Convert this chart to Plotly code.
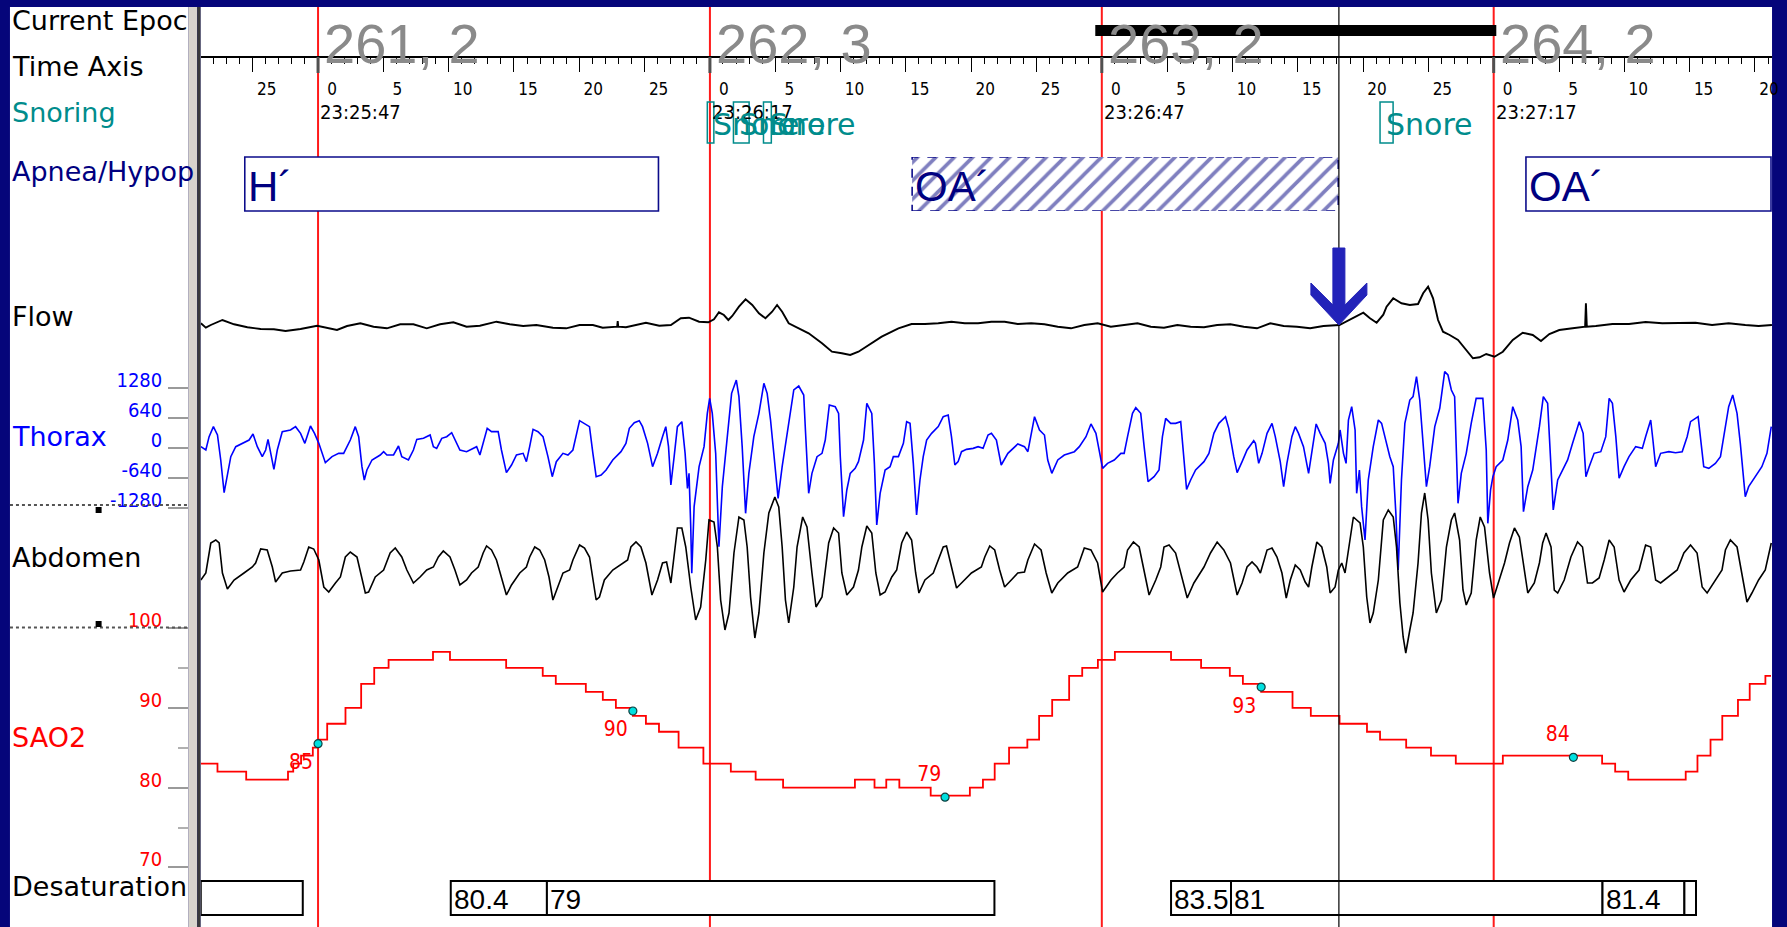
import plotly.graph_objects as go

W, H = 1787, 927

# ------------------------------------------------------------------ data
EPOCH_START = [0, 30, 60, 90]                     # s, relative to 23:25:47
EPOCH_NUM = ["261, 2", "262, 3", "263, 2", "264, 2"]
EPOCH_CLOCK = ["23:25:47", "23:26:17", "23:26:47", "23:27:17"]
TICK_T = [-5, 0, 5, 10, 15, 20, 25, 30, 35, 40, 45, 50, 55, 60, 65, 70, 75, 80, 85,
          90, 95, 100, 105, 110]
TICK_TXT = ["25", "0", "5", "10", "15", "20", "25", "0", "5", "10", "15", "20", "25",
            "0", "5", "10", "15", "20", "25", "0", "5", "10", "15", "20"]
CURSOR_T = 78.15
CURRENT_EPOCH = (59.5, 90.2)

SNORE = [(29.8, 30.3), (31.8, 33.0), (34.1, 34.7), (81.3, 82.3)]
APNEA_H = ("H\u00b4", -5.61, 26.06)
APNEA_OA_HATCH = ("OA\u00b4", 45.48, 78.1)
APNEA_OA_2 = ("OA\u00b4", 92.47, 111.23)

DESAT_CELLS = [(-8.98, -1.17, ""), (10.16, 17.52, "80.4"), (17.52, 51.78, "79"),
               (65.30, 69.89, "83.5"), (69.89, 98.33, "81"), (98.33, 104.60, "81.4"),
               (104.60, 105.49, "")]
DESAT_DOT_T = [0.0, 24.1, 48.0, 72.2, 96.1]
DESAT_DOT_V = [85.5, 89.6, 78.8, 92.6, 83.8]
DESAT_LBL_T = [-1.3, 22.8, 46.8, 70.9, 94.9]
DESAT_LBL_V = [83.0, 87.1, 81.45, 90.06, 86.47]
DESAT_LBL = ["85", "90", "79", "93", "84"]

THORAX_TICKS = [1280, 640, 0, -640, -1280]
SAO2_TICKS = [100, 90, 80, 70]
SAO2_MINOR = [95, 85, 75]

FLOW = [(-8.97, 2.7), (-8.59, -1.7), (-8.21, 1.0), (-7.32, 6.0), (-6.43, 1.7), (-5.41, -1.3),
        (-4.39, -3.0), (-3.38, -3.3), (-2.49, -5.0), (-1.34, -3.0), (-0.07, 0.3), (0.69, -1.7),
        (1.45, -4.0), (2.22, 0.0), (3.24, 2.7), (4.25, -0.7), (5.27, -2.3), (6.29, 1.7),
        (7.30, 1.7), (8.32, -2.3), (9.34, 1.7), (10.36, 3.7), (11.37, -0.7), (12.39, 0.3),
        (13.66, 4.3), (14.68, 1.7), (15.70, 0.0), (16.71, 1.0), (17.98, -1.7), (19.00, -2.3),
        (20.02, 1.0), (21.04, 1.0), (21.79, -1.7), (22.90, -0.7), (22.94, 5.0), (22.98, -0.7),
        (23.57, -1.3), (25.10, 3.3), (26.12, 0.3), (27.01, 1.0), (27.77, 7.7), (28.40, 8.3),
        (29.17, 4.3), (29.88, 3.7), (30.31, 6.7), (30.69, 13.7), (31.07, 11.0), (31.41, 6.0),
        (31.71, 10.0), (32.22, 19.3), (32.73, 26.7), (33.24, 21.0), (33.75, 12.7), (34.25, 7.7),
        (34.76, 14.3), (35.14, 21.0), (35.53, 14.3), (36.03, 2.7), (36.80, -2.3), (37.56, -7.3),
        (38.58, -17.3), (39.34, -25.7), (40.10, -27.3), (40.74, -29.0), (41.37, -25.7),
        (42.14, -19.0), (43.15, -10.7), (44.43, -2.3), (45.44, 2.0), (46.46, 2.0), (47.48, 2.7),
        (48.49, 4.3), (49.51, 2.7), (50.53, 2.7), (51.55, 4.3), (52.56, 4.3), (53.57, 2.0),
        (54.59, 2.7), (55.61, 1.7), (56.63, -0.7), (57.64, -2.3), (58.66, 1.0), (59.68, 2.7),
        (60.69, -0.7), (61.71, 1.0), (62.73, 2.7), (63.75, -0.7), (64.76, -1.7), (65.78, 1.0),
        (66.80, -0.7), (67.82, -1.3), (68.83, 1.0), (69.85, 1.7), (70.87, -0.7), (71.88, -2.3),
        (72.90, 2.7), (73.92, 0.0), (74.94, -0.7), (75.95, -2.3), (76.97, 0.0), (78.19, 1.0),
        (79.00, 6.7), (79.51, 10.0), (80.02, 13.3), (80.53, 7.7), (81.04, 3.3), (81.55, 11.3),
        (81.80, 19.3), (82.31, 27.7), (82.94, 22.7), (83.58, 21.0), (84.21, 22.0), (84.60, 32.7),
        (84.98, 39.3), (85.36, 27.7), (85.74, 6.0), (86.12, -5.7), (86.63, -9.0), (87.27, -14.0),
        (87.90, -24.0), (88.41, -32.3), (88.92, -31.3), (89.43, -28.0), (90.06, -30.7),
        (90.70, -25.7), (91.46, -14.0), (92.22, -6.7), (92.99, -9.0), (93.62, -15.0),
        (94.26, -8.0), (95.02, -4.0), (96.04, -2.3), (96.80, -0.7), (97.00, -0.7), (97.06, 22.7),
        (97.13, -0.7), (97.82, 0.0), (99.09, 2.0), (100.36, 2.0), (101.63, 4.0), (102.91, 2.7),
        (104.18, 2.7), (105.45, 3.3), (106.72, 1.0), (107.99, 2.7), (109.26, 1.0), (110.28, 0.0),
        (111.30, 1.0)]

THORAX = [(-8.97, 22), (-8.59, -49), (-8.34, 235), (-8.01, 449), (-7.70, 271), (-7.45, -262),
          (-7.19, -959), (-6.94, -547), (-6.68, -191), (-6.30, 22), (-5.79, 93), (-5.28, 164),
          (-4.98, 292), (-4.65, 22), (-4.27, -191), (-4.01, -49), (-3.83, 178), (-3.63, -120),
          (-3.38, -461), (-3.12, -49), (-2.74, 342), (-2.11, 378), (-1.72, 449), (-1.34, 306),
          (-1.01, 93), (-0.76, 306), (-0.58, 463), (-0.27, 306), (0.06, 93), (0.56, -319),
          (1.07, -191), (1.58, -120), (1.96, -120), (2.47, 164), (2.85, 449), (3.11, 235),
          (3.36, -405), (3.54, -689), (3.74, -476), (4.13, -262), (4.76, -156), (5.02, -85),
          (5.27, -156), (5.78, -156), (6.16, 36), (6.41, -191), (6.92, -262), (7.30, -49),
          (7.56, 178), (8.07, 200), (8.58, 271), (8.83, 22), (9.08, -14), (9.47, 200), (9.85, 235),
          (10.23, 321), (10.48, 164), (10.86, -49), (11.37, -85), (11.88, -14), (12.14, 22),
          (12.39, -156), (12.64, 93), (12.95, 413), (13.28, 342), (13.79, 342), (14.04, -49),
          (14.42, -533), (14.81, -369), (15.19, -156), (15.70, -120), (15.95, -298), (16.20, 22),
          (16.46, 392), (16.84, 342), (17.22, 235), (17.60, -191), (17.93, -618), (18.24, -298),
          (18.75, -120), (19.13, -156), (19.51, -49), (20.02, 577), (20.40, 520), (20.78, 449),
          (21.04, -120), (21.29, -618), (21.67, -582),
          (22.05, -476), (22.56, -262), (23.19, -85), (23.57, 93), (23.83, 413), (24.21, 534),
          (24.59, 577), (24.84, 449), (25.23, 93), (25.61, -405), (25.99, -120), (26.37, 235),
          (26.62, 449), (26.83, 22), (27.01, -796), (27.26, -191), (27.51, 449), (27.85, 555),
          (28.10, -120), (28.28, -867), (28.40, -547), (28.53, -1684), (28.61, -2680),
          (28.79, -1258), (29.17, -405), (29.55, 22), (29.80, 733), (29.98, 1053), (30.18, 733),
          (30.44, -120), (30.69, -2111), (30.95, -831), (31.33, 235), (31.66, 1160), (32.02, 1444),
          (32.22, 1089), (32.47, 22), (32.73, -1400), (32.98, -547), (33.36, 235), (33.75, 733),
          (34.13, 1373), (34.38, 1160), (34.64, 591), (34.89, -120), (35.22, -1080), (35.53, -405),
          (35.91, 306), (36.42, 1231), (36.80, 1316), (37.18, 1124), (37.31, 378), (37.56, -973),
          (37.81, -547), (38.20, -191), (38.58, -120), (38.83, 164), (39.14, 911), (39.59, 875),
          (39.85, 733), (39.98, -191), (40.23, -1471), (40.48, -902), (40.74, -547), (41.12, -440),
          (41.37, -298), (41.76, 164), (42.01, 946), (42.39, 733), (42.59, -334), (42.77, -1649),
          (43.03, -973), (43.41, -476), (43.79, -405), (44.04, -191), (44.43, -191), (44.81, 93),
          (45.06, 555), (45.32, 520), (45.57, -334), (45.82, -1436), (46.08, -689), (46.33, -191),
          (46.59, 164), (46.97, 306), (47.48, 449), (47.86, 662), (48.24, 697), (48.49, 235),
          (48.75, -369), (49.00, -298), (49.26, -85), (49.64, -35), (50.15, -14), (50.53, 22),
          (50.91, -14), (51.29, 271), (51.55, 306), (51.93, 164),
          (52.30, -369), (52.81, -120), (53.57, 79), (54.08, 22), (54.34, -85), (54.59, 306),
          (54.85, 662), (55.23, 378), (55.61, 271), (55.86, -262), (56.17, -547), (56.63, -262),
          (57.13, -156), (57.90, -85), (58.28, 22), (58.79, 235), (59.17, 506), (59.55, 306),
          (59.81, -49), (60.06, -440), (60.44, -334), (60.95, -262), (61.46, -120), (61.71, -120),
          (61.97, 235), (62.35, 733), (62.60, 854), (62.98, 733), (63.24, 22), (63.54, -725),
          (64.00, -618), (64.38, -476), (64.64, 235), (64.89, 626), (65.27, 520), (65.65, 520),
          (66.04, 555), (66.16, 164), (66.49, -888), (66.80, -689), (67.18, -476), (67.82, -298),
          (68.20, -120), (68.58, 306), (68.96, 520), (69.47, 662), (69.72, 413), (70.10, -191),
          (70.36, -533), (70.74, -298), (71.12, -49), (71.63, 150), (71.76, 93), (72.01, -334),
          (72.27, -120), (72.65, 306), (73.03, 520), (73.28, 235), (73.66, -298), (73.92, -831),
          (74.17, -334), (74.55, 235), (74.81, 449), (75.06, 306), (75.44, 22), (75.83, -547),
          (76.08, -49), (76.41, 506), (76.72, 306), (77.10, 93), (77.35, -334), (77.48, -760),
          (77.73, -262), (78.11, 93), (78.24, 378), (78.50, -120), (78.70, -334), (78.88, 591),
          (79.13, 875), (79.39, 378), (79.51, -973), (79.72, -476), (79.89, -1258), (80.15, -1969),
          (80.40, -689), (80.78, 22), (81.17, 591), (81.42, 520),
          (81.67, 235), (82.05, -191), (82.31, -405), (82.51, -1400), (82.69, -2609), (82.94, -689),
          (83.20, 520), (83.58, 1017), (83.83, 1089), (84.09, 1515), (84.34, 1017), (84.60, 22),
          (84.85, -831), (85.10, -405), (85.49, 449), (85.87, 840), (86.25, 1622), (86.50, 1551),
          (86.76, 1231), (87.01, 1089), (87.27, -1187), (87.52, -547), (87.90, -120), (88.28, 520),
          (88.66, 1053), (89.17, 1053), (89.43, -49), (89.55, -1613), (89.76, -902), (89.94, -618),
          (90.19, -405), (90.70, -262), (91.08, 164), (91.46, 875), (91.84, 591), (92.10, 22),
          (92.28, -1364), (92.61, -831), (92.99, -476), (93.50, 449), (93.80, 1089), (94.13, 946),
          (94.39, -334), (94.56, -1329), (94.90, -689), (95.28, -476), (95.66, -262), (96.04, 93),
          (96.55, 555), (96.85, 306), (97.06, -618), (97.31, -405), (97.69, -120), (98.20, -85),
          (98.58, 235), (98.84, 1053), (99.09, 946), (99.35, 235), (99.60, -653), (99.98, -405),
          (100.36, -191), (100.87, 22), (101.38, -14), (101.63, 235), (102.02, 591), (102.19, 164),
          (102.40, -405), (102.78, -120), (103.41, -85), (103.92, -106), (104.43, -85),
          (104.81, 235), (105.07, 555), (105.65, 662), (105.83, 235), (106.08, -405),
          (106.47, -440), (106.97, -334), (107.36, -191), (107.61, 235), (107.99, 875),
          (108.30, 1124), (108.63, 733), (108.88, 93), (109.26, -1045), (109.52, -831),
          (110.03, -618), (110.53, -405), (110.92, -120), (111.25, 449)]

ABDOMEN = [(-8.97, -10), (-8.59, -3), (-8.21, 27), (-7.83, 30), (-7.57, 27), (-7.32, -3),
           (-6.94, -19), (-6.43, -10), (-5.67, -3), (-5.03, 3), (-4.78, 7), (-4.39, 21),
           (-3.89, 20), (-3.50, 3), (-3.25, -12), (-2.74, -3), (-2.11, -1), (-1.34, 0),
           (-1.09, 8), (-0.71, 23), (-0.33, 21), (0.06, 10), (0.44, -17), (0.82, -22), (1.33, -13),
           (1.71, -7), (2.09, 13), (2.47, 18), (2.98, 13), (3.36, -7), (3.62, -23), (3.87, -22),
           (4.38, -7), (5.02, 0), (5.52, 17), (5.91, 22), (6.41, 13), (6.80, 0), (7.30, -13),
           (7.81, -7), (8.32, 0), (8.83, 3), (9.21, 13), (9.59, 19), (10.10, 13), (10.48, 0),
           (10.86, -15), (11.37, -10), (11.75, -3), (12.26, 3), (12.64, 17), (12.90, 24),
           (13.28, 20), (13.66, 10), (14.04, -7), (14.42, -25), (14.81, -15), (15.44, -3),
           (15.95, 3), (16.20, 13), (16.59, 23), (16.97, 20), (17.35, 10), (17.68, -7),
           (17.98, -30), (18.37, -17), (18.75, -3), (19.26, 0), (19.51, 10), (20.02, 25),
           (20.40, 22), (20.78, 13), (21.04, -10), (21.29, -30),
           (21.54, -27), (21.92, -10), (22.56, 0), (23.32, 7), (23.70, 10), (23.95, 23), (24.34, 28),
           (24.72, 23), (25.10, 7), (25.56, -25), (25.99, -10), (26.37, 7), (26.68, 8), (27.01, -13),
           (27.26, 17), (27.51, 42), (27.85, 42), (28.15, 23), (28.53, -17), (28.91, -50),
           (29.29, -37), (29.68, 10), (29.93, 50), (30.31, 48), (30.57, 23), (30.82, -30),
           (31.15, -60), (31.46, -43), (31.84, 17), (32.22, 53), (32.60, 50), (32.85, 23),
           (33.11, -27), (33.44, -68), (33.75, -43), (34.13, 17), (34.51, 57), (34.97, 73),
           (35.27, 63), (35.53, 23), (35.78, -30), (36.03, -53), (36.42, -17), (36.67, 23),
           (37.10, 53), (37.43, 43), (37.81, -3), (38.12, -37), (38.58, -27), (38.83, 0),
           (39.09, 27), (39.47, 42), (39.85, 37), (40.10, -3), (40.48, -25), (40.99, -17),
           (41.37, 0), (41.63, 23), (42.01, 44), (42.39, 37), (42.70, -3), (43.03, -25),
           (43.41, -22), (43.92, -7), (44.30, 0), (44.68, 27), (45.06, 38), (45.44, 30),
           (45.75, -3), (46.00, -23), (46.46, -10), (47.10, -3), (47.48, 10), (47.86, 23),
           (48.11, 24), (48.44, 7), (48.88, -18), (49.26, -13), (50.02, -3), (50.78, 3),
           (51.04, 13), (51.42, 24), (51.80, 20), (52.18, 0),
           (52.56, -17), (53.07, -10), (53.57, -3), (54.08, -2), (54.34, 10), (54.85, 26),
           (55.35, 20), (55.74, -3), (56.17, -23), (56.63, -13), (57.39, -3), (58.15, 3),
           (58.66, 22), (59.17, 20), (59.68, 7), (60.06, -22), (60.70, -10), (61.20, -3),
           (61.71, 3), (61.97, 20), (62.42, 28), (62.86, 23), (63.24, -3), (63.62, -25),
           (64.13, -10), (64.51, 3), (64.76, 23), (65.15, 25), (65.65, 17), (66.04, -3),
           (66.54, -28), (67.05, -13), (67.82, 3), (68.32, 17), (68.83, 28), (69.34, 20),
           (69.85, 7), (70.36, -25), (70.74, -13), (71.12, 3), (71.50, 8), (71.88, 3), (72.14, -3),
           (72.65, 20), (73.03, 22), (73.41, 13), (73.79, -3), (74.12, -28), (74.43, -10),
           (74.81, 5), (75.19, 0), (75.57, -12), (75.83, -17), (76.08, 3), (76.46, 28),
           (76.84, 23), (77.22, 3), (77.48, -23), (77.86, -17), (78.11, 0), (78.37, 7),
           (78.62, -3), (79.00, 33), (79.26, 53), (79.51, 50), (79.77, 47), (80.02, 23),
           (80.28, -27), (80.53, -53), (80.78, -43), (81.17, -10), (81.55, 50), (81.93, 60),
           (82.31, 53),
           (82.56, 23), (82.82, -33), (83.07, -67), (83.27, -83), (83.58, -60), (83.83, -43),
           (84.21, 7), (84.47, 57), (84.72, 77), (84.98, 50), (85.23, -3), (85.61, -43),
           (86.00, -30), (86.38, 23), (86.76, 50), (87.01, 57), (87.39, 30), (87.65, -20),
           (87.90, -35), (88.28, -23), (88.66, 30), (88.97, 53), (89.30, 43), (89.68, -3),
           (89.99, -28), (90.44, -10), (90.83, 7), (91.21, 27), (91.59, 42), (91.97, 33),
           (92.35, -3), (92.61, -23), (93.11, -13), (93.50, 7), (93.75, 27), (94.01, 37),
           (94.39, 23), (94.64, -20), (94.90, -23), (95.40, -10), (95.91, 13), (96.42, 28),
           (96.80, 23), (97.18, -13), (97.56, -13), (98.07, -8), (98.46, 10), (98.84, 30),
           (99.22, 23), (99.60, -10), (99.98, -22), (100.49, -10), (101.13, 0), (101.38, 13),
           (101.63, 25), (102.02, 23), (102.40, -10), (102.78, -13), (103.41, -7), (104.05, 0),
           (104.56, 17), (105.07, 25), (105.57, 17), (105.96, -17), (106.34, -23), (106.85, -13),
           (107.48, 0), (107.74, 20), (108.12, 30), (108.63, 23), (109.01, -3), (109.39, -32),
           (109.77, -23), (110.28, -10), (110.79, 0), (111.25, 27)]

SAO2 = [(-8.98, 83), (-7.7, 82), (-5.5, 81), (-2.3, 82), (-1.9, 83), (-1.3, 84), (-0.4, 85),
        (0.0, 86), (0.7, 88), (2.1, 90), (3.3, 93), (4.3, 95), (5.4, 96), (8.8, 97), (10.1, 96),
        (14.4, 95), (17.2, 94), (18.2, 93), (20.5, 92), (21.8, 91), (22.8, 90), (24.1, 89),
        (25.1, 88), (26.1, 87), (27.6, 85), (29.5, 83), (31.6, 82), (33.5, 81), (35.6, 80),
        (41.1, 81), (42.6, 80), (43.5, 81), (44.5, 80), (46.9, 79), (49.9, 80), (50.9, 81),
        (51.8, 83), (52.9, 85), (54.3, 86), (55.2, 89), (56.2, 91), (57.5, 94), (58.5, 95),
        (59.7, 96), (61.0, 97), (65.3, 96), (67.6, 95), (69.8, 94), (70.8, 93), (72.2, 92),
        (74.6, 90), (76.0, 89), (78.2, 88), (80.3, 87), (81.3, 86), (83.3, 85), (85.2, 84),
        (87.1, 83), (90.7, 84), (98.3, 83), (99.3, 82), (100.3, 81), (104.7, 82), (105.6, 84),
        (106.6, 86), (107.5, 89), (108.7, 91), (109.6, 93), (110.8, 94), (111.23, 94)]

# ------------------------------------------------------------------ layout geometry (px)
NAVY_BG = "#05057a"
NAVY = "#0b0b8a"
TEAL = "#008c8c"
NARROW = "Liberation Sans Narrow, Arial Narrow, DejaVu Sans Condensed, sans-serif"
ARIAL = "Liberation Sans, Arial, sans-serif"
DEJAVU = "DejaVu Sans, Verdana, sans-serif"

PLOT_L, PLOT_R, PLOT_T = 201.5, 1779.0, 7.0
PANEL_L, PANEL_R = 10.0, 189.0
T0_PX, PX_PER_S = 319.3, 13.114


def t_at(px):
    return (px - T0_PX) / PX_PER_S


def py(row):
    return 1 - row / H


def px(col):
    return col / W


def yrange(zero_row, units_per_px, zero_val=0.0):
    return [zero_val + (zero_row - H) * units_per_px, zero_val + (zero_row - PLOT_T) * units_per_px]


X_RANGE = [t_at(PLOT_L), t_at(PLOT_R)]
YDOM = [0, py(PLOT_T)]


def unzip(pairs):
    return [p[0] for p in pairs], [p[1] for p in pairs]


fig = go.Figure()

ft, fv = unzip(FLOW)
fig.add_trace(go.Scatter(x=ft, y=fv, mode="lines", yaxis="y",
                         line=dict(color="black", width=1.9), hoverinfo="skip"))
tt, tv = unzip(THORAX)
fig.add_trace(go.Scatter(x=tt, y=tv, mode="lines", yaxis="y2",
                         line=dict(color="#0000ff", width=1.6), hoverinfo="skip"))
at, av = unzip(ABDOMEN)
fig.add_trace(go.Scatter(x=at, y=av, mode="lines", yaxis="y3",
                         line=dict(color="black", width=1.6), hoverinfo="skip"))
st, sv = unzip(SAO2)
fig.add_trace(go.Scatter(x=st, y=sv, mode="lines", yaxis="y4", line_shape="hv",
                         line=dict(color="#ff0000", width=1.8), hoverinfo="skip"))
fig.add_trace(go.Scatter(x=DESAT_DOT_T, y=DESAT_DOT_V, mode="markers", yaxis="y4",
                         marker=dict(size=8, color="#00e0e0", line=dict(color="#104040", width=1.2)),
                         hoverinfo="skip"))
fig.add_trace(go.Scatter(x=DESAT_LBL_T, y=DESAT_LBL_V, mode="text", yaxis="y4", text=DESAT_LBL,
                         textfont=dict(family=NARROW, size=21, color="#ff0000"), hoverinfo="skip"))

# hatched obstructive apnea event
lbl, a0, a1 = APNEA_OA_HATCH
fig.add_trace(go.Scatter(x=[a0, a1, a1, a0, a0], y=[0, 0, 1, 1, 0], yaxis="y5", mode="lines",
                         fill="toself", fillcolor="white",
                         fillpattern=dict(shape="/", fgcolor="#000080", bgcolor="white", size=13,
                                          solidity=0.28),
                         line=dict(color=NAVY, width=1.6, dash="dash"), hoverinfo="skip"))

shapes = []
# white panels / separator (layout background)
shapes += [
    dict(type="rect", xref="paper", yref="paper", x0=px(PANEL_L), x1=px(PANEL_R), y0=0,
         y1=py(PLOT_T), fillcolor="white", line_width=0, layer="below"),
    dict(type="rect", xref="paper", yref="paper", x0=px(PANEL_R), x1=px(198), y0=0,
         y1=py(PLOT_T), fillcolor="#d8d4cc", line_width=0, layer="below"),
    dict(type="rect", xref="paper", yref="paper", x0=px(198), x1=px(PLOT_L), y0=0,
         y1=py(PLOT_T), fillcolor="#3a3a3a", line_width=0, layer="below"),
    dict(type="rect", xref="paper", yref="paper", x0=px(PLOT_L), x1=px(PLOT_R), y0=0,
         y1=py(PLOT_T), fillcolor="white", line_width=0, layer="below"),
]
# epoch boundaries
for e in EPOCH_START:
    shapes.append(dict(type="line", xref="x", yref="paper", x0=e, x1=e, y0=0, y1=py(PLOT_T),
                       line=dict(color="#ff1a1a", width=2), layer="below"))
    shapes.append(dict(type="line", xref="x", yref="paper", x0=e, x1=e, y0=py(73), y1=py(57),
                       line=dict(color="#505050", width=3), layer="above"))
# current epoch bar
shapes.append(dict(type="rect", xref="x", yref="paper", x0=CURRENT_EPOCH[0], x1=CURRENT_EPOCH[1],
                   y0=py(36), y1=py(25), fillcolor="black", line_width=0))
# snoring events
for s0, s1 in SNORE:
    shapes.append(dict(type="rect", xref="x", yref="paper", x0=s0, x1=s1, y0=py(143), y1=py(102),
                       line=dict(color=TEAL, width=1.5), fillcolor="rgba(0,0,0,0)"))
# apnea / hypopnea boxes
for _, b0, b1 in (APNEA_H, APNEA_OA_2):
    shapes.append(dict(type="rect", xref="x", yref="paper", x0=b0, x1=b1, y0=py(211), y1=py(157),
                       line=dict(color=NAVY, width=1.6), fillcolor="white"))
# desaturation cells
for c0, c1, _ in DESAT_CELLS:
    shapes.append(dict(type="rect", xref="x", yref="paper", x0=c0, x1=c1, y0=py(915), y1=py(881),
                       line=dict(color="black", width=2), fillcolor="white"))
# cursor and arrow
shapes.append(dict(type="line", xref="x", yref="paper", x0=CURSOR_T, x1=CURSOR_T, y0=0,
                   y1=py(PLOT_T), line=dict(color="black", width=1.2)))
shapes.append(dict(type="path", xref="x", xsizemode="pixel", xanchor=CURSOR_T,
                   yref="paper", ysizemode="pixel", yanchor=py(325),
                   path="M 0,0 L 28,30 L 28,42 L 6,20 L 6,77 L -6,77 L -6,20 L -28,42 L -28,30 Z",
                   fillcolor="#2323b9", line=dict(color="#2323b9", width=1)))
# channel separators in the label panel
for row, sq0, sq1 in ((505, 507, 513), (627.5, 621, 627)):
    shapes.append(dict(type="line", xref="paper", yref="paper", x0=px(PANEL_L), x1=px(PANEL_R),
                       y0=py(row), y1=py(row), line=dict(color="#555555", width=2, dash="dot")))
    shapes.append(dict(type="rect", xref="paper", yref="paper", x0=px(96), x1=px(102),
                       y0=py(sq1), y1=py(sq0), fillcolor="black", line_width=0))

ann = []
LABELS = [("Current Epoc", 21, "black"), ("Time Axis", 66.5, "black"), ("Snoring", 112.5, TEAL),
          ("Apnea/Hypop", 172, "#000080"), ("Flow", 316, "black"), ("Thorax", 436.5, "#0000ff"),
          ("Abdomen", 557, "black"), ("SAO2", 737.5, "#ff0000"), ("Desaturation", 886.5, "black")]
for txt, row, col in LABELS:
    ann.append(dict(text=txt, xref="paper", yref="paper", x=px(PANEL_L), y=py(row), xanchor="left",
                    yanchor="middle", showarrow=False, xshift=0,
                    font=dict(family=DEJAVU, size=27, color=col)))
for e, num, clk in zip(EPOCH_START, EPOCH_NUM, EPOCH_CLOCK):
    ann.append(dict(text=num, xref="x", yref="paper", x=e, y=py(44), xanchor="left",
                    yanchor="middle", showarrow=False, xshift=4,
                    font=dict(family=ARIAL, size=56, color="#8a8a8a")))
    ann.append(dict(text=clk, xref="x", yref="paper", x=e, y=py(112), xanchor="left",
                    yanchor="middle", showarrow=False, xshift=0,
                    font=dict(family=NARROW, size=20, color="black")))
for s0, _ in SNORE:
    ann.append(dict(text="Snore", xref="x", yref="paper", x=s0, y=py(124), xanchor="left",
                    yanchor="middle", showarrow=False, xshift=4,
                    font=dict(family=DEJAVU, size=30, color=TEAL)))
for txt, b0, _ in (APNEA_H, APNEA_OA_HATCH, APNEA_OA_2):
    ann.append(dict(text=txt, xref="x", yref="paper", x=b0, y=py(186), xanchor="left",
                    yanchor="middle", showarrow=False, xshift=1,
                    font=dict(family=ARIAL, size=42, color="#000080")))
for c0, _, txt in DESAT_CELLS:
    if txt:
        ann.append(dict(text=txt, xref="x", yref="paper", x=c0, y=py(899), xanchor="left",
                        yanchor="middle", showarrow=False, xshift=1,
                        font=dict(family=ARIAL, size=28, color="black")))

hidden_y = dict(domain=YDOM, visible=False, showgrid=False, zeroline=False, fixedrange=True)
tick_axis = dict(domain=YDOM, anchor="free", position=px(PANEL_R), side="left", showline=False,
                 showgrid=False, zeroline=False, ticks="outside", ticklen=20, tickwidth=1.5,
                 tickcolor="#9a9a9a", tickmode="array", ticklabelshift=-8, ticklabelstandoff=2)

fig.update_layout(
    width=W, height=H, margin=dict(l=0, r=0, t=0, b=0),
    paper_bgcolor=NAVY_BG, plot_bgcolor="rgba(0,0,0,0)", showlegend=False,
    xaxis=dict(domain=[px(PLOT_L), px(PLOT_R)], range=X_RANGE, anchor="free", position=py(57),
               side="bottom", showline=True, linecolor="black", linewidth=1.5, showgrid=False,
               zeroline=False, ticks="outside", ticklen=14, tickwidth=1.2, tickcolor="black",
               tickmode="array", tickvals=TICK_T, ticktext=TICK_TXT, ticklabelshift=14,
               ticklabelstandoff=3, tickfont=dict(family=NARROW, size=17, color="black"),
               minor=dict(tickmode="linear", tick0=0, dtick=1, ticks="outside", ticklen=6,
                          tickwidth=1, tickcolor="black", showgrid=False),
               layer="above traces", fixedrange=True),
    yaxis=dict(range=yrange(326, 1.0), **hidden_y),
    yaxis2=dict(overlaying="y", range=yrange(447.7, 640 / 30), tickvals=THORAX_TICKS,
                ticktext=[str(v) for v in THORAX_TICKS],
                tickfont=dict(family=NARROW, size=20, color="#0000ff"), **tick_axis),
    yaxis3=dict(overlaying="y", range=yrange(570, 1.0), **hidden_y),
    yaxis4=dict(overlaying="y", range=yrange(628, 1 / 7.98, 100.0), tickvals=SAO2_TICKS,
                ticktext=[str(v) for v in SAO2_TICKS],
                tickfont=dict(family=NARROW, size=20, color="#ff0000"),
                minor=dict(tickmode="array", tickvals=SAO2_MINOR, ticks="outside", ticklen=10,
                           tickwidth=1.5, tickcolor="#b0b0b0", showgrid=False),
                **tick_axis),
    yaxis5=dict(domain=[py(211), py(157)], range=[0, 1], anchor="x", visible=False,
                fixedrange=True),
    shapes=shapes, annotations=ann,
)

fig.write_html("out.html", config={"displayModeBar": False},
               post_script="document.body.style.margin='0';document.body.style.overflow='hidden';")
